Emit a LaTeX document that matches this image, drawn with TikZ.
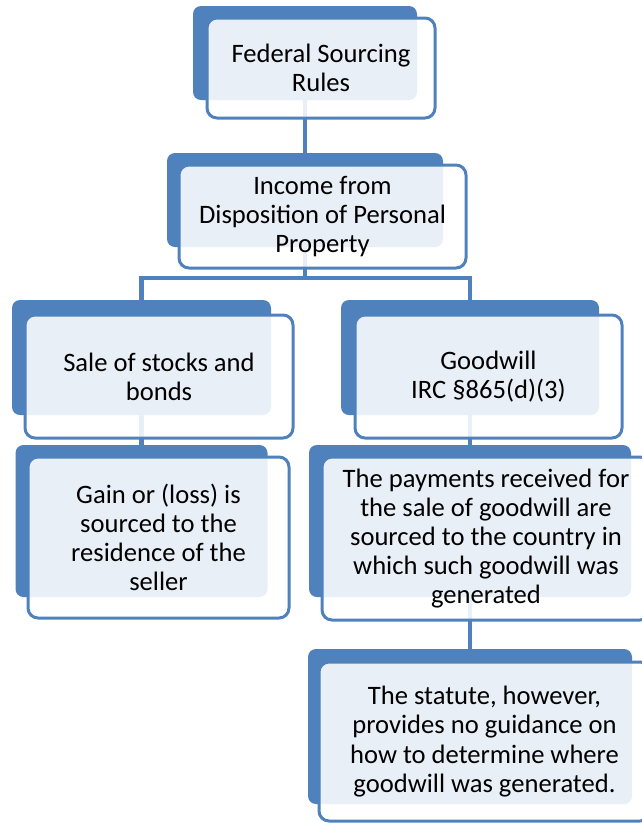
\documentclass[tikz,border=0pt]{standalone}
\usepackage{fontspec}
\setmainfont{Carlito}
\definecolor{smartblue}{HTML}{4F81BD}
\tikzset{
  backbox/.style={fill=smartblue, rounded corners=8pt, inner sep=0pt},
  frontbox/.style={draw=smartblue, line width=3pt, fill=white, fill opacity=0.88,
    text opacity=1, rounded corners=10pt, inner sep=0pt,
    font=\fontsize{26.6}{29.2}\selectfont, align=center, text=black},
  link/.style={draw=smartblue, line width=4.5pt}
}
\begin{document}
\begin{tikzpicture}[x=1pt,y=-1pt]
  \useasboundingbox (0,0) rectangle (642,823);
  \clip (0,0) rectangle (642,823);
  % back panels
  \node[backbox, minimum width=224pt, minimum height=94pt] (b1) at (305,53) {};
  \node[backbox, minimum width=276pt, minimum height=94pt] (b2) at (305,200) {};
  \node[backbox, minimum width=259pt, minimum height=115pt] (b3) at (141.5,357.5) {};
  \node[backbox, minimum width=258pt, minimum height=115pt] (b4) at (470,357.5) {};
  \node[backbox, minimum width=252pt, minimum height=152pt] (b5) at (141.5,521) {};
  \node[backbox, minimum width=322pt, minimum height=152pt] (b6) at (470,521) {};
  \node[backbox, minimum width=324pt, minimum height=155pt] (b7) at (470,726.5) {};
  \coordinate (split) at (305,278);
  % connectors
  \begin{scope}[link]
    \draw (b1.south) -- (b2.north);
    \draw (b2.south) -- (split);
    \draw (split) -| (b3.north);
    \draw (split) -| (b4.north);
    \draw (b3.south) -- (b5.north);
    \draw (b4.south) -- (b6.north);
    \draw (b6.south) -- (b7.north);
  \end{scope}
  % front panels with text
  \node[frontbox, minimum width=228pt, minimum height=100pt] (f1) at (321,68)
    {Federal Sourcing\\Rules};
  \node[frontbox, minimum width=287pt, minimum height=103pt] (f2) at (322.5,216.5)
    {Income from\\Disposition of Personal\\Property};
  \node[frontbox, minimum width=268pt, minimum height=123pt] (f3) at (159,376.5)
    {Sale of stocks and\\bonds};
  \node[frontbox, minimum width=267pt, minimum height=123pt] (f4) at (488.5,376.5)
    {Goodwill\\IRC \S865(d)(3)};
  \node[frontbox, minimum width=261pt, minimum height=161pt] (f5) at (158.5,537.5)
    {Gain or (loss) is\\sourced to the\\residence of the\\seller};
  \node[frontbox, minimum width=328pt, minimum height=163pt] (f6) at (486,538.5)
    {The payments received for\\the sale of goodwill are\\sourced to the country in\\which such goodwill was\\generated};
  \node[frontbox, minimum width=331pt, minimum height=159pt] (f7) at (484.5,741.5)
    {The statute, however,\\provides no guidance on\\how to determine where\\goodwill was generated.};
\end{tikzpicture}
\end{document}
